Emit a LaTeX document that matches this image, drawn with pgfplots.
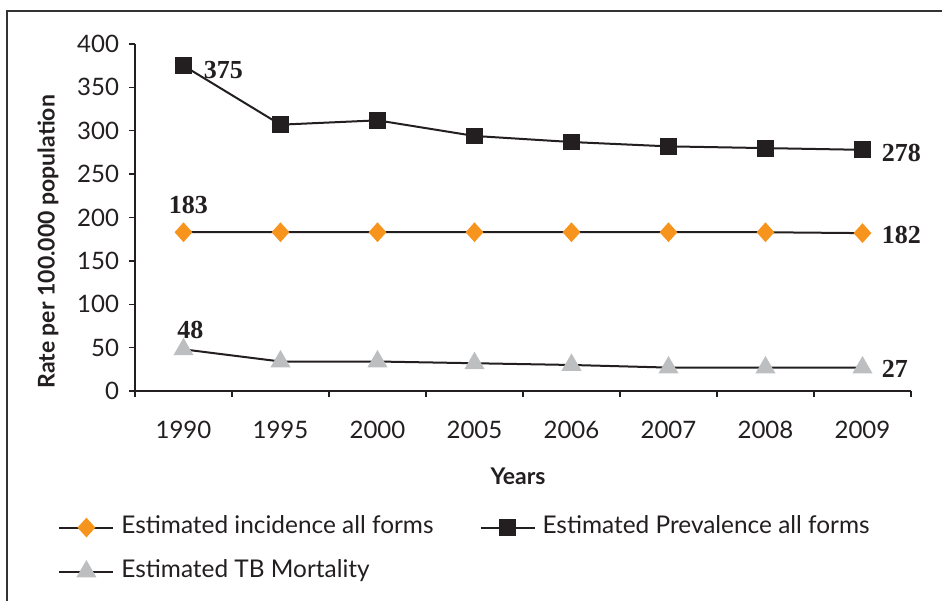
\documentclass[border=0pt]{standalone}
\usepackage{pgfplots}
\pgfplotsset{compat=1.18}
\usepackage{fontspec}
\setmainfont{Lato}
\newfontfamily\valfont{Liberation Serif}

\definecolor{incol}{HTML}{F7941D}
\definecolor{prevcol}{HTML}{231F20}
\definecolor{mortcol}{HTML}{BCBEC0}
\definecolor{linecol}{HTML}{231F20}

\begin{document}
\begin{tikzpicture}
\path[use as bounding box] (0,0) rectangle (471pt,300pt);
\begin{axis}[
    at={(67.5pt,104.5pt)}, anchor=south west,
    scale only axis, width=388pt, height=173.5pt,
    xmin=-0.5, xmax=7.5, ymin=0, ymax=400,
    clip=false,
    axis x line*=bottom, axis y line*=left,
    axis line style={line width=0.7pt, linecol},
    tick align=outside,
    tick style={line width=0.7pt, linecol},
    major tick length=3pt,
    xtick={-0.5,0.5,...,7.5}, xticklabels={},
    extra x ticks={0,1,2,3,4,5,6,7},
    extra x tick labels={1990,1995,2000,2005,2006,2007,2008,2009},
    extra x tick style={major tick length=0pt, xticklabel style={yshift=-11.5pt}},
    ytick={0,50,...,400},
    yticklabel style={xshift=-1.5pt},
    /pgf/number format/assume math mode=true,
    tick label style={font=\fontsize{12}{14}\selectfont, text=linecol},
    xlabel={Years}, ylabel={Rate per 100.000 population},
    every axis x label/.style={at={(axis description cs:0.4936,-0.245)}, anchor=center,
        font=\fontsize{11.5}{13}\selectfont\bfseries, text=linecol},
    every axis y label/.style={at={(axis description cs:-0.112,0.43)}, rotate=90, anchor=center,
        font=\fontsize{11.5}{13}\selectfont\bfseries, text=linecol},
    legend style={at={(axis description cs:-0.0992,-0.457)}, anchor=west,
        draw=none, fill=none, inner sep=0pt, legend columns=2,
        font=\fontsize{12.2}{14}\selectfont, text=linecol, row sep=9.5pt,
        nodes={inner sep=1pt, text height=8pt, text depth=2.5pt},
        /tikz/every even column/.append style={column sep=22pt}},
    legend cell align=left,
    legend image code/.code={\draw[mark repeat=2,mark phase=2,#1] plot coordinates {(0pt,0pt) (13.5pt,0pt) (27pt,0pt)}; \path (29.5pt,0pt);},
]
\addplot[linecol, line width=1pt, mark=diamond*, mark size=4.2pt,
    mark options={draw=incol, fill=incol, xscale=1.2}] coordinates {
    (0,183) (1,183) (2,183) (3,183) (4,183) (5,183) (6,183) (7,182)
};
\addlegendentry{Estimated incidence all forms}
\addplot[linecol, line width=1pt, mark=square*, mark size=3.7pt,
    mark options={draw=prevcol, fill=prevcol}] coordinates {
    (0,375) (1,307) (2,312) (3,294) (4,287) (5,282) (6,280) (7,278)
};
\addlegendentry{Estimated Prevalence all forms}
\addplot[linecol, line width=1pt, mark=triangle*, mark size=4.8pt,
    mark options={draw=mortcol, fill=mortcol}] coordinates {
    (0,48) (1,34) (2,34) (3,32) (4,30) (5,27) (6,27) (7,27)
};
\addlegendentry{Estimated TB Mortality}

\begin{scope}[every node/.style={font=\valfont\fontsize{13}{15}\selectfont\bfseries, text=linecol, inner sep=0pt}]
\node[anchor=west] at ([xshift=10pt,yshift=-2pt]axis cs:0,375) {375};
\node[anchor=west] at ([xshift=9.5pt,yshift=-1.5pt]axis cs:7,278) {278};
\node[anchor=center] at ([xshift=2.5pt,yshift=13.5pt]axis cs:0,183) {183};
\node[anchor=west] at ([xshift=9.5pt,yshift=-1pt]axis cs:7,182) {182};
\node[anchor=center] at ([xshift=3.5pt,yshift=9.5pt]axis cs:0,48) {48};
\node[anchor=west] at ([xshift=9.5pt,yshift=-0.5pt]axis cs:7,27) {27};
\end{scope}
\end{axis}
\draw[line width=0.8pt, black!80] (3.5pt,-10pt) -- (3.5pt,294.5pt) -- (490pt,294.5pt);
\end{tikzpicture}
\end{document}
